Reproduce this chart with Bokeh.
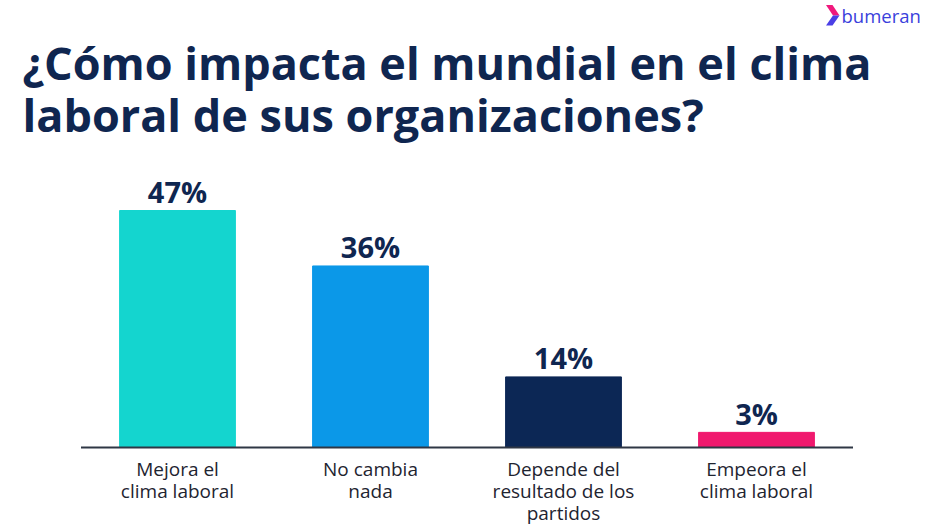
from bokeh.plotting import figure
from bokeh.models import Range1d, Label, ColumnDataSource
from bokeh.core.properties import value
from bokeh.embed import file_html
from bokeh.resources import INLINE

# Survey data
categories = ["Mejora el\nclima laboral", "No cambia\nnada",
              "Depende del\nresultado de los\npartidos", "Empeora el\nclima laboral"]
percentages = [47, 36, 14, 3]
pct_labels = ["47%", "36%", "14%", "3%"]
bar_colors = ["#14d5cf", "#0b98e8", "#0c2755", "#f0196e"]

W, H = 935, 529
NAVY = "#0f2650"

# Pixel geometry of the plotting area
left_px, step_px = 80.5, 193.0
base_px, px_per_unit = 447.0, 237.0 / 47.0

x0 = -left_px / step_px - 0.5
x1 = (W - left_px) / step_px - 0.5
y0 = -(H - base_px) / px_per_unit
y1 = base_px / px_per_unit


def px_to_data(px, py):
    return ((px - left_px) / step_px - 0.5, (base_px - py) / px_per_unit)


p = figure(width=W, height=H, output_backend="svg", toolbar_location=None,
           x_range=Range1d(x0, x1), y_range=Range1d(y0, y1),
           min_border=0, x_axis_location=None, y_axis_location=None)
p.grid.visible = False
p.outline_line_color = None
p.background_fill_color = "white"
p.border_fill_color = "white"

xs = list(range(len(categories)))
src = ColumnDataSource(dict(x=xs, top=percentages, color=bar_colors, pct=pct_labels))

p.vbar(x="x", top="top", bottom=0, width=0.6, color="color", source=src)

# Baseline
p.segment(x0=[-0.5], y0=[0], x1=[len(categories) - 0.5], y1=[0],
          line_color="#2f3745", line_width=2)

# Value labels
p.text(x="x", y="top", text="pct", source=src, text_align="center",
       text_baseline="alphabetic", y_offset=-19,
       text_font=value("Open Sans"), text_font_style="bold",
       text_font_size="29px", text_color=NAVY)

# Category labels, one row per line
line_x, line_txt, line_off = [], [], []
for i, cat in enumerate(categories):
    for k, part in enumerate(cat.split("\n")):
        line_x.append(i)
        line_txt.append(part)
        line_off.append(8 + 22 * k)
cat_src = ColumnDataSource(dict(x=line_x, txt=line_txt, off=line_off))
p.text(x="x", y=0, text="txt", source=cat_src, text_align="center",
       text_baseline="top", y_offset="off",
       text_font=value("Open Sans"), text_font_size="19px",
       text_color="#1e2430")

# Title
for i, line in enumerate(["¿Cómo impacta el mundial en el clima",
                          "laboral de sus organizaciones?"]):
    p.add_layout(Label(x=22, y=H - 62 - 52 * i, x_units="screen", y_units="screen",
                       text=line, text_font="Open Sans", text_font_style="bold",
                       text_font_size="45px", text_color=NAVY,
                       text_baseline="alphabetic"))

# Brand mark
upper = [px_to_data(*pt) for pt in [(825.5, 4.5), (832, 4.5), (839, 15), (832.5, 15)]]
lower = [px_to_data(*pt) for pt in [(832.5, 15), (839, 15), (832, 25), (825.5, 25)]]
p.patches(xs=[[a for a, _ in upper], [a for a, _ in lower]],
          ys=[[b for _, b in upper], [b for _, b in lower]],
          fill_color=["#f0197d", "#4a3fe6"], line_color=None)
p.add_layout(Label(x=841, y=H - 15, x_units="screen", y_units="screen",
                   text="bumeran", text_font="Open Sans", text_font_size="18.5px",
                   text_color="#3a3fdc", text_baseline="alphabetic"))

open("out.html", "w").write(file_html(p, INLINE))
